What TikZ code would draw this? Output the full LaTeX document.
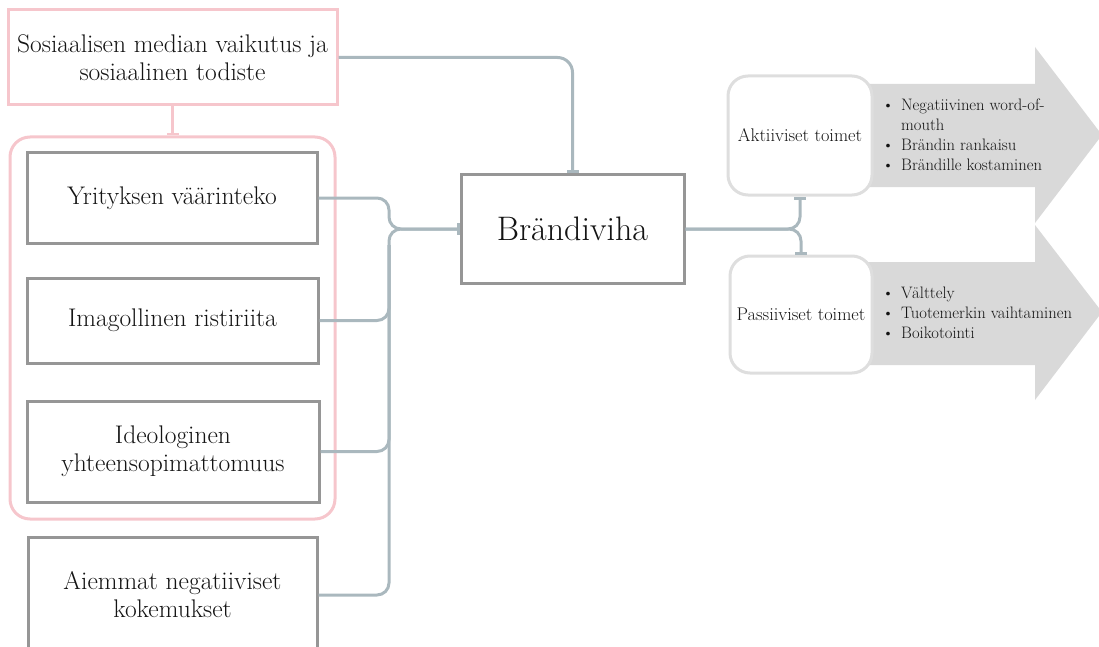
\documentclass[tikz,border=0pt]{standalone}
\usetikzlibrary{arrows.meta}

\definecolor{pinkline}{RGB}{246,198,204}
\definecolor{boxgray}{RGB}{150,150,150}
\definecolor{connblue}{RGB}{170,184,190}
\definecolor{softgray}{RGB}{222,222,222}
\definecolor{arrowfill}{RGB}{217,217,217}
\definecolor{inktext}{RGB}{20,20,20}

\tikzset{
  factor/.style={draw=boxgray, line width=3pt, fill=white, align=center, text=inktext,
    inner sep=0pt, font=\fontsize{25.5}{28}\selectfont},
  mediabox/.style={draw=pinkline, line width=3pt, fill=white, align=center, text=inktext,
    inner sep=0pt, font=\fontsize{25.5}{28}\selectfont},
  groupbox/.style={draw=pinkline, line width=3pt, rounded corners=20pt, inner sep=0pt},
  actionbox/.style={draw=softgray, line width=3pt, fill=white, rounded corners=20pt,
    text=inktext, inner sep=0pt, font=\fontsize{18.3}{20}\selectfont},
  itemlist/.style={anchor=west, inner sep=0pt, align=left, text=inktext,
    font=\fontsize{16.6}{20}\selectfont},
  conn/.style={draw=connblue, line width=3pt, rounded corners=12pt},
  tobar/.style={-{Bar[width=12pt]}}
}

\begin{document}
\begin{tikzpicture}[x=1pt, y=-1pt]
  \useasboundingbox (0,0) rectangle (1099,647);

  % arrows behind the action boxes
  \fill[arrowfill] (860,84) -- (1035,84) -- (1035,47) -- (1102,135) -- (1035,223)
    -- (1035,187) -- (860,187) -- cycle;
  \fill[arrowfill] (860,262) -- (1035,262) -- (1035,225) -- (1102,312) -- (1035,400)
    -- (1035,365) -- (860,365) -- cycle;

  % nodes
  \node[mediabox, minimum width=329pt, minimum height=95pt] (media) at (172.5,57.5)
    {Sosiaalisen median vaikutus ja\\sosiaalinen todiste};
  \node[groupbox, minimum width=325pt, minimum height=382pt] (group) at (172.5,328) {};
  \node[factor, minimum width=290pt, minimum height=90pt] (wrong) at (172,198)
    {Yrityksen väärinteko};
  \node[factor, minimum width=291pt, minimum height=85pt] (image) at (172.5,320.5)
    {Imagollinen ristiriita};
  \node[factor, minimum width=292pt, minimum height=101pt] (ideo) at (173,451.5)
    {Ideologinen\\yhteensopimattomuus};
  \node[factor, minimum width=289pt, minimum height=116pt] (past) at (172.5,595)
    {Aiemmat negatiiviset\\kokemukset};
  \node[factor, minimum width=223pt, minimum height=108pt,
    font=\fontsize{34}{38}\selectfont] (hate) at (572.5,229) {Brändiviha};
  \node[actionbox, minimum width=144pt, minimum height=119pt] (active) at (800,135.5)
    {Aktiiviset toimet};
  \node[actionbox, minimum width=142pt, minimum height=117pt] (passive) at (801,314.5)
    {Passiiviset toimet};

  \node[itemlist] (activelist) at (882,136.5) {%
    \begin{tabular}{@{}l@{\hspace{7pt}}l@{}}
      \textbullet & Negatiivinen word-of-\\
                  & mouth\\
      \textbullet & Brändin rankaisu\\
      \textbullet & Brändille kostaminen
    \end{tabular}};
  \node[itemlist] (passivelist) at (882,314.5) {%
    \begin{tabular}{@{}l@{\hspace{7pt}}l@{}}
      \textbullet & Välttely\\
      \textbullet & Tuotemerkin vaihtaminen\\
      \textbullet & Boikotointi
    \end{tabular}};

  \coordinate (join) at (389,229);
  \coordinate (trunk) at (389,245);

  % connectors
  \draw[draw=pinkline, line width=2.5pt, tobar] (media.south) -- (group.north);
  \draw[conn, rounded corners=15pt, tobar] (media.east) -| (hate.north);

  \draw[conn] (wrong.east) -| (join) -- (hate.west);
  \draw[conn, tobar] (past.east) -| (join) -- (hate.west);
  \draw[conn] (image.east) -| (trunk);
  \draw[conn] (ideo.east) -| (trunk);

  \draw[conn, tobar] (hate.east) -| (active.south);
  \draw[conn, tobar] (hate.east) -| (passive.north);
\end{tikzpicture}
\end{document}
